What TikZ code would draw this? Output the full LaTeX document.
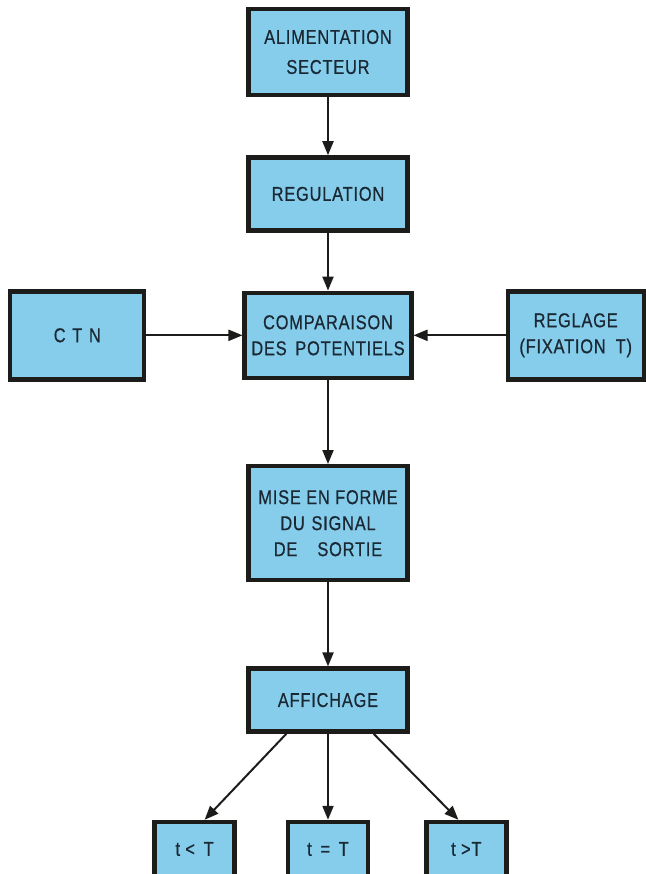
\documentclass[tikz,border=0pt]{standalone}
\usepackage{fontspec}
\setmainfont{Liberation Sans}
\usepackage{xcolor}
\usepackage{tikz}
\usetikzlibrary{positioning,arrows.meta}
\definecolor{bfill}{HTML}{86CDEB}
\definecolor{bline}{HTML}{1C1C1A}
\definecolor{btext}{HTML}{1A2833}

\begin{document}
\begin{tikzpicture}[node distance=29pt,
  font=\fontsize{10}{13}\selectfont\addfontfeature{FakeStretch=0.82,LetterSpace=4,FakeBold=0.6},
  blk/.style={draw=bline, fill=bfill, line width=2.2pt, text=btext, minimum width=79.5pt, align=center},
  res/.style={blk, minimum width=40pt, minimum height=27pt},
  arr/.style={-{Triangle[length=7pt,width=5.5pt]}, line width=1pt, draw=bline}]
\useasboundingbox (0,0) rectangle (323pt,-437pt);
\node[blk, minimum height=43pt] (alim) at (164pt,-26pt) {ALIMENTATION\\[2pt] SECTEUR};
\node[blk, minimum height=36.5pt, below=of alim] (reg) {REGULATION};
\node[blk, minimum height=42.5pt, below=of reg] (comp) {COMPARAISON\\ DES\, POTENTIELS};
\node[blk, minimum width=67pt, minimum height=44pt, left=48pt of comp] (ctn) {C\,\,T\,\,N};
\node[blk, minimum width=68pt, minimum height=44pt, right=46pt of comp] (regl) {REGLAGE\\ (FIXATION\,\,\,T)};
\node[blk, minimum height=57pt, below=42pt of comp] (mise) {MISE EN FORME\\ DU\,\,SIGNAL\\ DE\quad SORTIE};
\node[blk, minimum height=31.5pt, below=42pt of mise] (aff) {AFFICHAGE};
\node[res, below=43pt of aff] (eq) {t\, =\, T};
\node[res, left=24.5pt of eq] (lt) {t \textless\, T};
\node[res, right=27pt of eq] (gt) {t \textgreater T};
\draw[arr] (alim) -- (reg);
\draw[arr] (reg) -- (comp);
\draw[arr] (ctn) -- (comp);
\draw[arr] (regl) -- (comp);
\draw[arr] (comp) -- (mise);
\draw[arr] (mise) -- (aff);
\draw[arr] ([xshift=20pt]aff.south west) -- ([xshift=5pt]lt.north);
\draw[arr] (aff.south) -- (eq.north);
\draw[arr] ([xshift=-18pt]aff.south east) -- ([xshift=-4pt]gt.north);
\end{tikzpicture}
\end{document}
